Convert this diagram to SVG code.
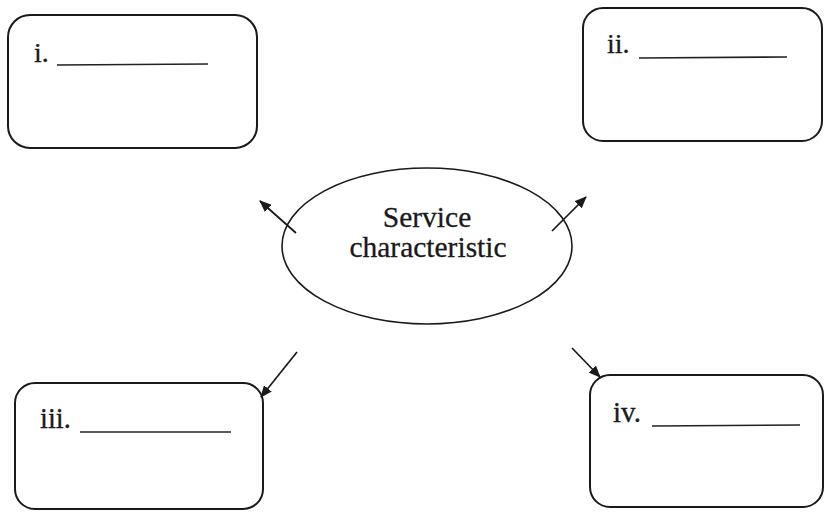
<svg xmlns="http://www.w3.org/2000/svg" width="825" height="512" viewBox="0 0 825 512">
  <style>
    .box { fill: none; stroke: #1a1a1a; stroke-width: 2; }
    .blank { stroke: #222; stroke-width: 1.6; }
    .label { font-family: "Liberation Serif", "Times New Roman", serif; fill: #1a1a1a; stroke: #1a1a1a; stroke-width: 0.3; }
    .conn { stroke: #1a1a1a; stroke-width: 1.7; fill: none; marker-end: url(#arrow); }
  </style>
  <defs>
    <!-- solid triangular arrowhead shared by all connectors -->
    <marker id="arrow" viewBox="0 0 12 10" refX="11" refY="5" markerWidth="12" markerHeight="10" markerUnits="userSpaceOnUse" orient="auto">
      <path d="M0,0 L12,5 L0,10 z" fill="#1a1a1a"/>
    </marker>
  </defs>
  <rect width="825" height="512" fill="#ffffff"/>

  <g id="node-i">
    <rect class="box" x="8" y="15" width="249" height="133" rx="22" ry="22"/>
    <text class="label" x="34" y="62" font-size="28">i.</text>
    <line class="blank" x1="57" y1="65" x2="208" y2="64"/>
  </g>

  <g id="node-ii">
    <rect class="box" x="583" y="8" width="239" height="133" rx="20" ry="20"/>
    <text class="label" x="607" y="53" font-size="28">ii.</text>
    <line class="blank" x1="639" y1="58" x2="787" y2="57"/>
  </g>

  <g id="node-center">
    <ellipse cx="427" cy="246" rx="145" ry="78" fill="none" stroke="#1a1a1a" stroke-width="1.6"/>
    <text class="label" x="427" y="227" font-size="29.5" text-anchor="middle" stroke-width="0.2">Service</text>
    <text class="label" x="428" y="257" font-size="29.5" text-anchor="middle" stroke-width="0.2">characteristic</text>
  </g>

  <g id="node-iii">
    <rect class="box" x="15" y="383" width="248" height="126" rx="20" ry="20"/>
    <text class="label" x="40" y="428" font-size="28.5">iii.</text>
    <line class="blank" x1="80" y1="432" x2="231" y2="432"/>
  </g>

  <g id="node-iv">
    <rect class="box" x="590" y="375" width="233" height="132" rx="20" ry="20"/>
    <text class="label" x="613" y="422" font-size="29">iv.</text>
    <line class="blank" x1="652" y1="426" x2="800" y2="425"/>
  </g>

  <g id="connectors">
    <line class="conn" x1="296" y1="233" x2="260" y2="201"/>
    <line class="conn" x1="552" y1="231" x2="586" y2="197"/>
    <line class="conn" x1="297" y1="352" x2="261" y2="397"/>
    <line class="conn" x1="572" y1="348" x2="600" y2="377"/>
  </g>
</svg>
